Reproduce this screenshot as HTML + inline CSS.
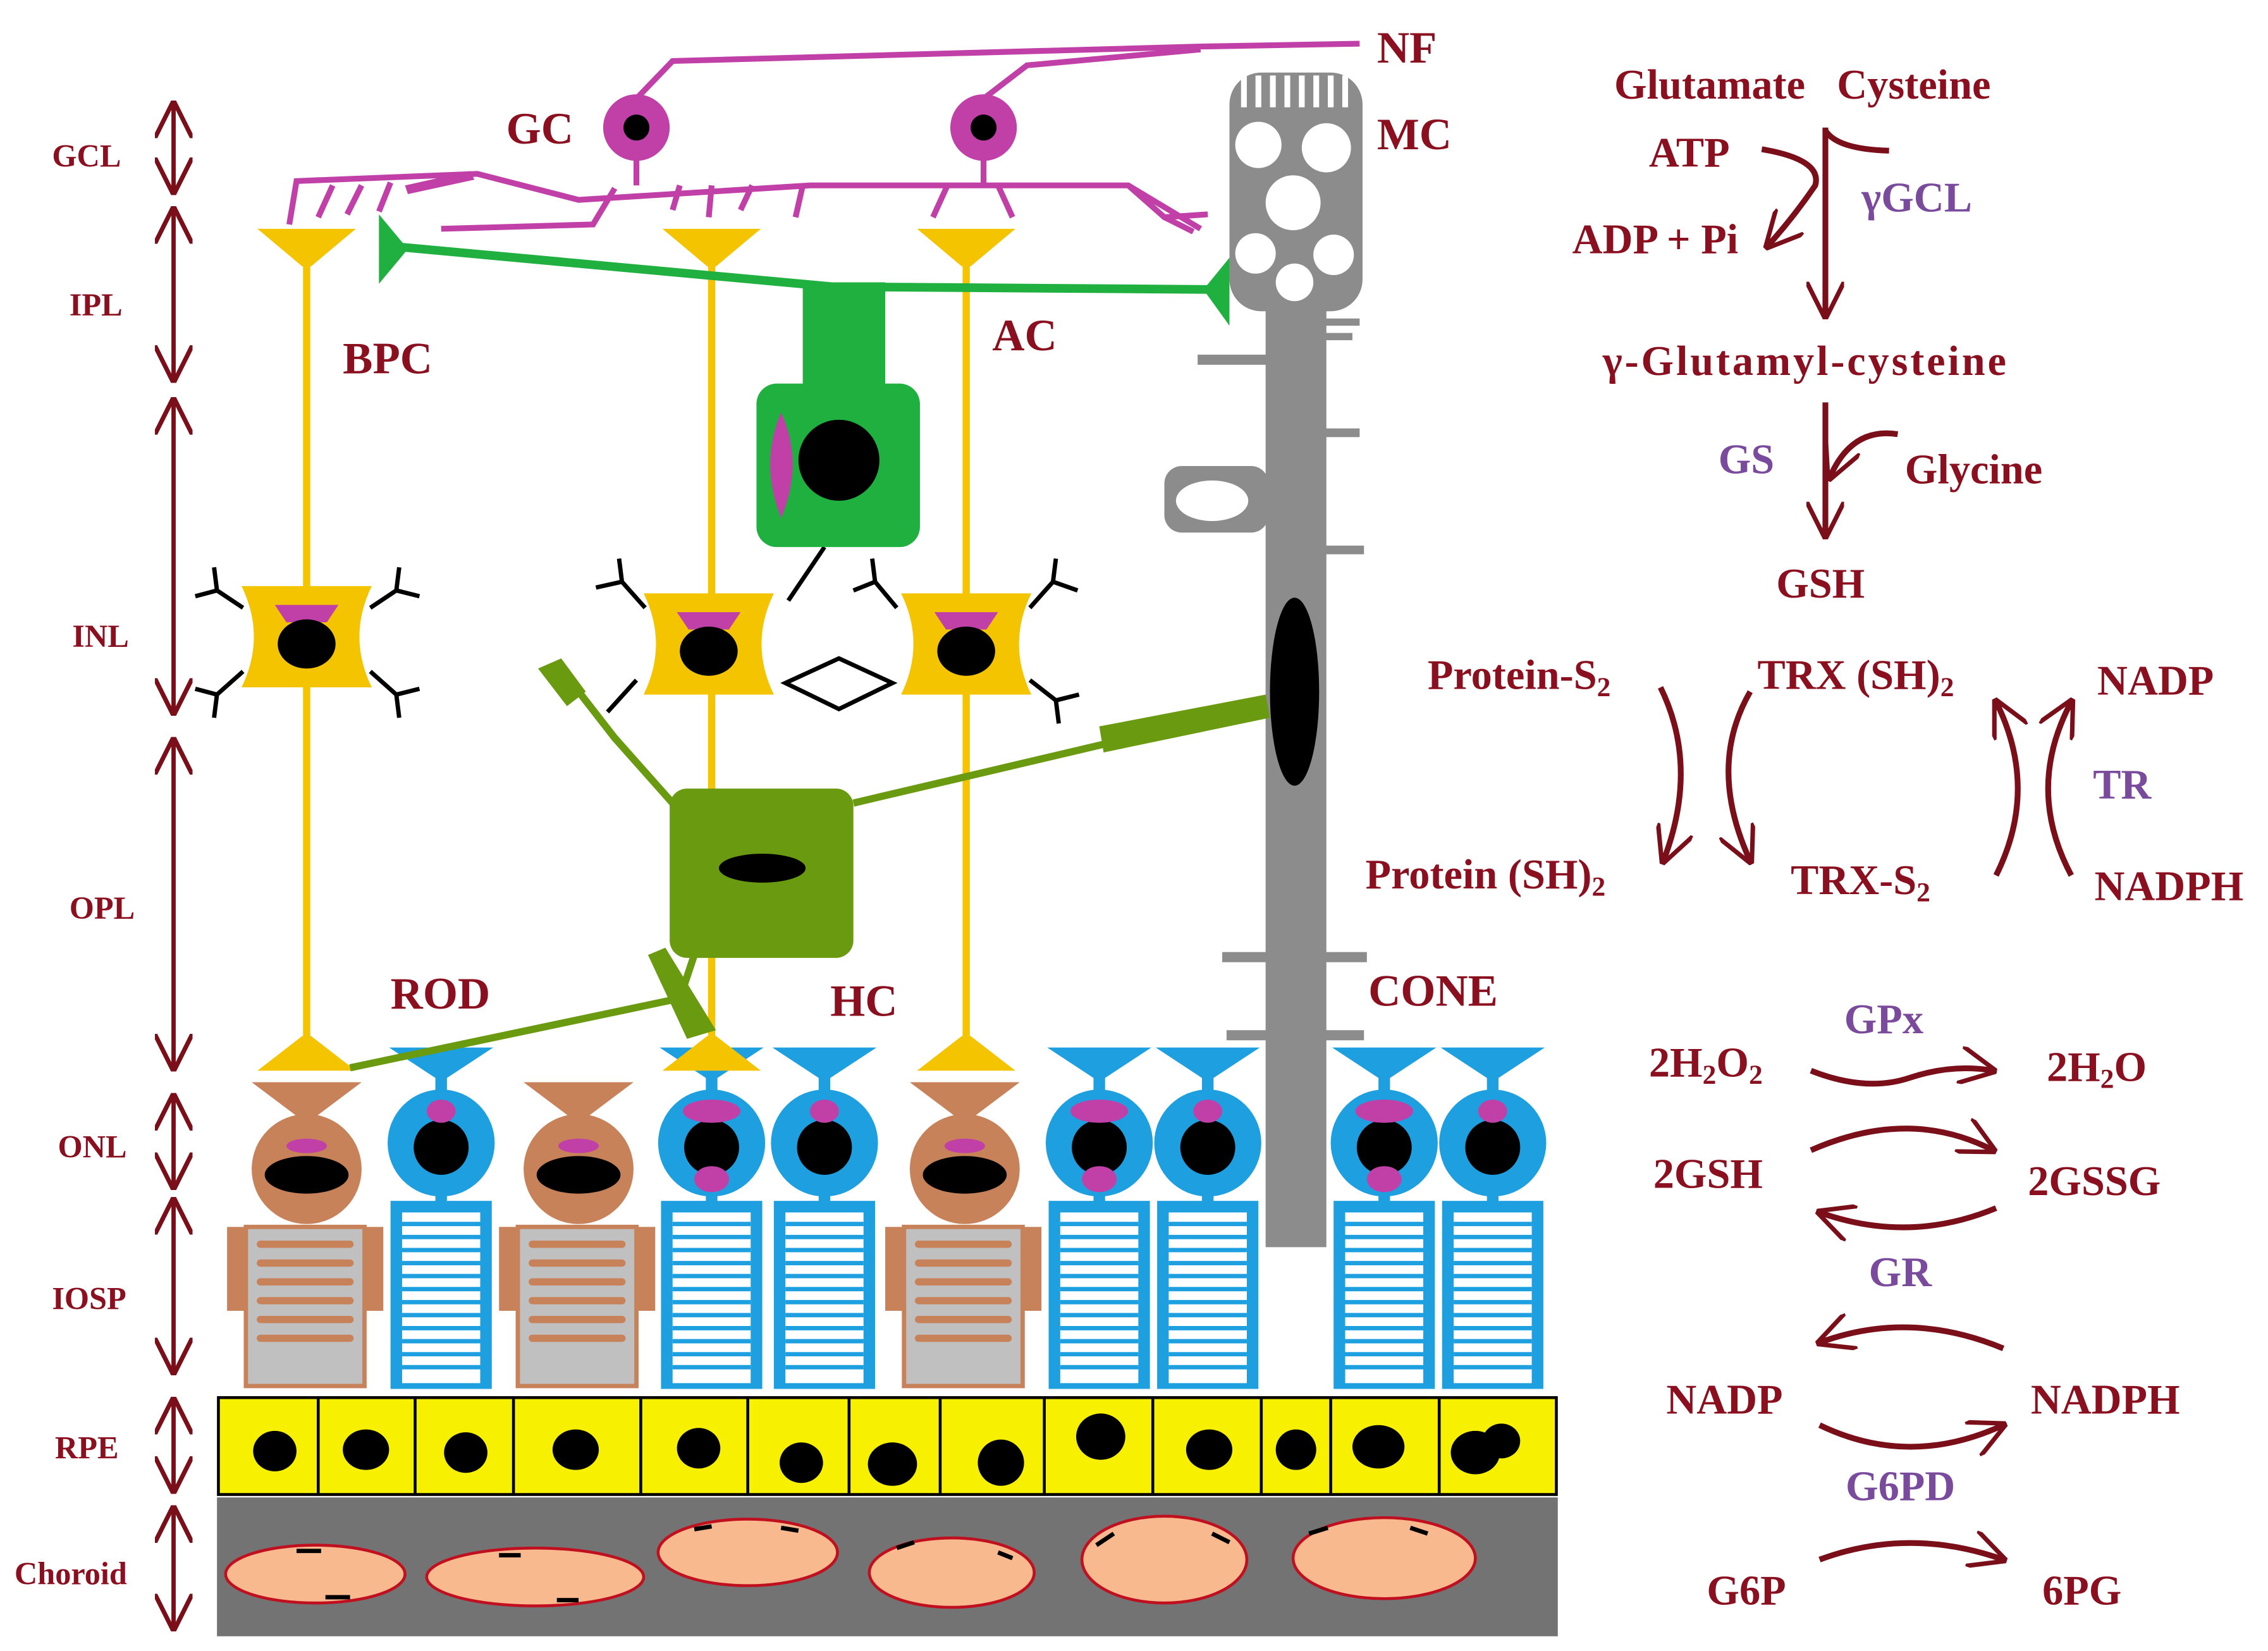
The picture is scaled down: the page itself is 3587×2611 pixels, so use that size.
<!DOCTYPE html>
<html><head><meta charset="utf-8"><style>
html,body{margin:0;padding:0;background:#fff;}
svg{display:block;}
text{font-family:"Liberation Serif",serif;font-weight:bold;}
.r{fill:#8a0f1f;}
.p{fill:#7a4a9c;}
</style></head><body>
<svg width="3587" height="2611" viewBox="0 0 1568 1141" xmlns="http://www.w3.org/2000/svg">
<defs>
<marker id="b" viewBox="0 0 10 10" refX="9" refY="5" markerWidth="26" markerHeight="26" orient="auto-start-reverse" markerUnits="userSpaceOnUse">
<path d="M0,0 L10,5 L0,10" fill="none" stroke="#7a0f1a" stroke-width="1.2"/></marker>
<g id="cone">
<polygon points="-36,724 36,724 4,745 -4,745" fill="#1ea0e0"/>
<rect x="-4" y="740" width="8" height="20" fill="#1ea0e0"/>
<circle cx="0" cy="790" r="37" fill="#1ea0e0"/>
<circle cx="0" cy="793" r="19" fill="#000"/>
<ellipse cx="0" cy="768" rx="10" ry="8" fill="#c040a8"/>
<rect x="-4" y="822" width="8" height="10" fill="#1ea0e0"/>
<rect x="-35" y="830" width="70" height="130" fill="#1ea0e0"/>
<rect x="-27" y="838" width="54" height="118" fill="#fff"/>
<g stroke="#1ea0e0" stroke-width="3">
<line x1="-27" y1="846" x2="27" y2="846"/><line x1="-27" y1="855" x2="27" y2="855"/><line x1="-27" y1="864" x2="27" y2="864"/><line x1="-27" y1="873" x2="27" y2="873"/><line x1="-27" y1="882" x2="27" y2="882"/><line x1="-27" y1="891" x2="27" y2="891"/><line x1="-27" y1="900" x2="27" y2="900"/><line x1="-27" y1="909" x2="27" y2="909"/><line x1="-27" y1="918" x2="27" y2="918"/><line x1="-27" y1="927" x2="27" y2="927"/><line x1="-27" y1="936" x2="27" y2="936"/><line x1="-27" y1="945" x2="27" y2="945"/></g>
</g>
<g id="rod">
<polygon points="-38,748 38,748 6,772 -6,772" fill="#c8825a"/>
<rect x="-4" y="768" width="8" height="14" fill="#c8825a"/>
<circle cx="0" cy="808" r="38" fill="#c8825a"/>
<ellipse cx="0" cy="812" rx="29" ry="13" fill="#000"/>
<ellipse cx="0" cy="792" rx="14" ry="5" fill="#c040a8"/>
<rect x="-55" y="848" width="108" height="58" fill="#c8825a"/>
<rect x="-42" y="848" width="82" height="110" fill="#c0c0c0" stroke="#c8825a" stroke-width="3"/>
<g stroke="#c8825a" stroke-width="5" stroke-linecap="round">
<line x1="-32" y1="860" x2="30" y2="860"/><line x1="-32" y1="873" x2="30" y2="873"/><line x1="-32" y1="886" x2="30" y2="886"/><line x1="-32" y1="899" x2="30" y2="899"/><line x1="-32" y1="912" x2="30" y2="912"/><line x1="-32" y1="925" x2="30" y2="925"/></g>
</g>
<g id="bpc">
<path d="M-45,-35 L45,-35 Q28,0 45,35 L-45,35 Q-28,0 -45,-35Z" fill="#f5c400"/>
<polygon points="-22,-22 22,-22 14,-10 -14,-10" fill="#c040a8"/>
<ellipse cx="0" cy="5" rx="20" ry="17" fill="#000"/>
</g>
</defs>

<!-- Choroid -->
<rect x="150" y="1035" width="927" height="96" fill="#737373"/>
<g fill="#f9b98f" stroke="#c01020" stroke-width="2">
<ellipse cx="218" cy="1088" rx="62" ry="20"/><ellipse cx="370" cy="1090" rx="75" ry="20"/>
<ellipse cx="517" cy="1073" rx="62" ry="23"/><ellipse cx="658" cy="1087" rx="57" ry="24"/>
<ellipse cx="805" cy="1078" rx="57" ry="30"/><ellipse cx="957" cy="1077" rx="63" ry="28"/></g>
<g stroke="#000" stroke-width="3">
<line x1="205" y1="1072" x2="222" y2="1072"/><line x1="225" y1="1104" x2="242" y2="1104"/>
<line x1="345" y1="1075" x2="360" y2="1075"/><line x1="385" y1="1106" x2="400" y2="1106"/>
<line x1="480" y1="1057" x2="492" y2="1055"/><line x1="540" y1="1056" x2="552" y2="1058"/>
<line x1="620" y1="1070" x2="632" y2="1066"/><line x1="690" y1="1073" x2="700" y2="1077"/>
<line x1="758" y1="1068" x2="770" y2="1060"/><line x1="838" y1="1060" x2="850" y2="1066"/>
<line x1="905" y1="1060" x2="918" y2="1056"/><line x1="975" y1="1056" x2="987" y2="1060"/></g>

<!-- RPE -->
<rect x="151" y="966" width="925" height="67" fill="#f7f000" stroke="#000" stroke-width="2"/>
<g stroke="#000" stroke-width="2">
<line x1="220" y1="966" x2="220" y2="1033"/><line x1="287" y1="966" x2="287" y2="1033"/><line x1="355" y1="966" x2="355" y2="1033"/><line x1="443" y1="966" x2="443" y2="1033"/><line x1="517" y1="966" x2="517" y2="1033"/><line x1="587" y1="966" x2="587" y2="1033"/><line x1="650" y1="966" x2="650" y2="1033"/><line x1="722" y1="966" x2="722" y2="1033"/><line x1="797" y1="966" x2="797" y2="1033"/><line x1="872" y1="966" x2="872" y2="1033"/><line x1="920" y1="966" x2="920" y2="1033"/><line x1="995" y1="966" x2="995" y2="1033"/></g>
<g fill="#000">
<ellipse cx="190" cy="1003" rx="15" ry="14"/><ellipse cx="253" cy="1002" rx="16" ry="14"/><ellipse cx="322" cy="1004" rx="15" ry="14"/><ellipse cx="398" cy="1002" rx="16" ry="14"/><ellipse cx="483" cy="1001" rx="15" ry="14"/><ellipse cx="554" cy="1011" rx="15" ry="14"/><ellipse cx="617" cy="1012" rx="17" ry="15"/><ellipse cx="692" cy="1011" rx="16" ry="16"/><ellipse cx="761" cy="993" rx="17" ry="16"/><ellipse cx="836" cy="1002" rx="16" ry="14"/><ellipse cx="896" cy="1002" rx="14" ry="14"/><ellipse cx="953" cy="1000" rx="18" ry="15"/><ellipse cx="1020" cy="1004" rx="17" ry="15"/><ellipse cx="1038" cy="996" rx="13" ry="12"/></g>

<!-- MC -->
<g fill="#8c8c8c">
<rect x="875" y="170" width="42" height="692"/>
<rect x="850" y="50" width="92" height="165" rx="22"/>
<rect x="828" y="245" width="50" height="7"/><rect x="915" y="220" width="25" height="5"/><rect x="915" y="230" width="20" height="5"/>
<rect x="915" y="296" width="25" height="6"/><rect x="915" y="377" width="28" height="6"/>
<rect x="805" y="322" width="72" height="46" rx="12"/>
<rect x="845" y="658" width="100" height="7"/><rect x="848" y="712" width="95" height="7"/></g>
<g fill="#fff">
<rect x="858" y="52" width="4" height="22"/><rect x="868" y="52" width="4" height="22"/><rect x="878" y="52" width="4" height="22"/><rect x="888" y="52" width="4" height="22"/><rect x="898" y="52" width="4" height="22"/><rect x="908" y="52" width="4" height="22"/><rect x="918" y="52" width="4" height="22"/><rect x="928" y="52" width="4" height="22"/>
<circle cx="870" cy="100" r="16"/><circle cx="917" cy="102" r="17"/><circle cx="894" cy="140" r="19"/><circle cx="868" cy="175" r="14"/><circle cx="922" cy="176" r="14"/><circle cx="895" cy="195" r="13"/>
<ellipse cx="838" cy="346" rx="25" ry="14"/></g>
<ellipse cx="895" cy="478" rx="17" ry="65" fill="#000"/>

<!-- Cones and rods -->
<use href="#cone" x="305"/><use href="#cone" x="492"/><use href="#cone" x="570"/><use href="#cone" x="760"/><use href="#cone" x="835"/><use href="#cone" x="957"/><use href="#cone" x="1032"/>
<use href="#rod" x="212"/><use href="#rod" x="400"/><use href="#rod" x="667"/>
<g fill="#c040a8"><ellipse cx="492" cy="815" rx="12" ry="9"/><ellipse cx="760" cy="815" rx="12" ry="9"/><ellipse cx="957" cy="815" rx="12" ry="9"/>
<ellipse cx="492" cy="768" rx="20" ry="8"/><ellipse cx="760" cy="768" rx="20" ry="8"/><ellipse cx="957" cy="768" rx="20" ry="8"/></g>

<!-- Bipolar cells -->
<g fill="#f5c400" stroke="#f5c400">
<line x1="212" y1="170" x2="212" y2="730" stroke-width="5"/><line x1="492" y1="170" x2="492" y2="730" stroke-width="5"/><line x1="668" y1="170" x2="668" y2="730" stroke-width="5"/>
<polygon points="178,158 246,158 215,184 209,184" stroke="none"/><polygon points="458,158 526,158 495,184 489,184" stroke="none"/><polygon points="634,158 702,158 671,184 665,184" stroke="none"/>
<polygon points="209,716 215,716 246,740 178,740" stroke="none"/><polygon points="489,716 495,716 526,740 458,740" stroke="none"/><polygon points="665,716 671,716 702,740 634,740" stroke="none"/></g>
<use href="#bpc" x="212" y="440"/><use href="#bpc" x="490" y="445"/><use href="#bpc" x="668" y="445"/>
<g fill="none" stroke="#000" stroke-width="3">
<path d="M168,420 L150,408 M150,408 L135,412 M150,408 L148,392"/>
<path d="M256,420 L274,408 M274,408 L290,412 M274,408 L276,392"/>
<path d="M168,464 L150,480 M150,480 L135,476 M150,480 L148,496"/>
<path d="M256,464 L274,480 M274,480 L290,476 M274,480 L276,496"/>
<path d="M446,420 L430,402 M430,402 L412,406 M430,402 L428,386"/>
<path d="M620,420 L605,402 M605,402 L590,408 M605,402 L603,386"/>
<path d="M712,420 L728,402 M728,402 L745,408 M728,402 L730,386"/>
<path d="M712,470 L730,484 M730,484 L746,480 M730,484 L732,500"/>
<line x1="440" y1="470" x2="420" y2="492"/>
<line x1="545" y1="415" x2="570" y2="378"/>
<polygon points="543,472 580,455 617,472 580,490"/></g>

<!-- AC -->
<g fill="#1fb040" stroke="#1fb040">
<path d="M270,170 L575,198 L845,200" fill="none" stroke-width="6"/>
<polygon points="262,148 282,172 262,196" stroke="none"/>
<polygon points="850,178 850,225 832,200" stroke="none"/>
<rect x="555" y="195" width="57" height="75" stroke="none"/>
<rect x="523" y="265" width="113" height="113" rx="14" stroke="none"/></g>
<path d="M540,285 Q525,320 540,358 Q556,320 540,285Z" fill="#c040a8"/>
<circle cx="580" cy="318" r="28" fill="#000"/>

<!-- HC -->
<g stroke="#6a9a10" fill="none" stroke-width="5">
<path d="M465,555 L425,510 L390,465"/><path d="M590,555 L875,488"/>
<path d="M480,660 L470,690 L242,738"/><path d="M470,690 L490,712"/></g>
<g fill="#6a9a10">
<polygon points="372,462 388,455 405,478 392,488"/>
<polygon points="760,502 875,480 878,496 763,520"/>
<polygon points="448,660 460,655 495,712 475,718"/>
<rect x="463" y="545" width="127" height="117" rx="12"/></g>
<ellipse cx="527" cy="600" rx="30" ry="10" fill="#000"/>

<!-- GC -->
<g stroke="#c040a8" fill="none" stroke-width="4">
<path d="M440,68 L465,42 L830,32 L940,30"/><path d="M680,68 L710,45 L830,34"/>
<path d="M440,110 L440,128 M680,110 L680,128"/>
<path d="M200,155 L205,125 L330,120 L400,138 L560,128 L780,128 L830,158"/>
<path d="M305,158 L410,155 L425,130"/>
<path d="M220,150 L230,128 M240,148 L250,128 M262,146 L270,126"/>
<path d="M465,145 L470,128 M490,150 L492,128 M512,145 L520,128 M550,150 L555,128 M645,150 L655,128 M700,150 L690,128"/>
<path d="M780,128 L805,150 L835,148 M805,150 L825,160"/></g>
<path d="M280,128 L325,118 L328,124 L282,134Z" fill="#c040a8"/>
<g fill="#c040a8"><circle cx="440" cy="88" r="23"/><circle cx="680" cy="88" r="23"/></g>
<g fill="#000"><circle cx="440" cy="88" r="9"/><circle cx="680" cy="88" r="9"/></g>

<!-- cell labels -->
<g class="r" font-size="31">
<text x="350" y="99">GC</text><text x="952" y="43">NF</text><text x="952" y="103">MC</text>
<text x="237" y="258">BPC</text><text x="686" y="242">AC</text>
<text x="270" y="697">ROD</text><text x="574" y="702">HC</text><text x="946" y="695">CONE</text></g>

<!-- layer labels and arrows -->
<g class="r" font-size="22">
<text x="36" y="115">GCL</text><text x="48" y="218">IPL</text><text x="50" y="447">INL</text><text x="48" y="635">OPL</text><text x="40" y="800">ONL</text><text x="36" y="905">IOSP</text><text x="38" y="1008">RPE</text><text x="10" y="1095">Choroid</text></g>
<g stroke="#7a0f1a" stroke-width="3" marker-start="url(#b)" marker-end="url(#b)">
<line x1="120" y1="72" x2="120" y2="132"/><line x1="120" y1="145" x2="120" y2="262"/><line x1="120" y1="277" x2="120" y2="492"/><line x1="120" y1="512" x2="120" y2="738"/><line x1="120" y1="758" x2="120" y2="820"/><line x1="120" y1="830" x2="120" y2="948"/><line x1="120" y1="968" x2="120" y2="1030"/><line x1="120" y1="1043" x2="120" y2="1125"/></g>

<!-- right side pathway -->
<g fill="none" stroke="#7a0f1a" stroke-width="4" marker-end="url(#b)">
<line x1="1262" y1="88" x2="1262" y2="218"/>
<path d="M1218,103 Q1260,110 1255,128 Q1240,150 1222,170"/>
<line x1="1262" y1="278" x2="1262" y2="370"/>
<path d="M1312,300 Q1280,295 1265,330"/>
<path d="M1148,475 Q1175,530 1150,595"/>
<path d="M1210,478 Q1180,530 1210,595"/>
<path d="M1380,605 Q1410,545 1380,485"/>
<path d="M1432,605 Q1400,545 1432,485"/>
<path d="M1252,740 Q1290,755 1320,745 Q1350,735 1378,740"/>
<path d="M1252,795 Q1320,765 1378,795"/>
<path d="M1380,835 Q1320,860 1258,838"/>
<path d="M1385,932 Q1320,905 1258,928"/>
<path d="M1258,985 Q1320,1015 1385,985"/>
<path d="M1258,1078 Q1320,1055 1385,1078"/></g>
<path d="M1262,90 Q1270,103 1306,104" fill="none" stroke="#7a0f1a" stroke-width="4"/>
<g class="r" font-size="29">
<text x="1116" y="68">Glutamate</text><text x="1270" y="68">Cysteine</text>
<text x="1140" y="115">ATP</text><text x="1087" y="175">ADP + Pi</text>
<text x="1108" y="259" textLength="279">γ-Glutamyl-cysteine</text>
<text x="1317" y="334">Glycine</text><text x="1228" y="413">GSH</text>
<text x="987" y="476">Protein-S<tspan font-size="19" dy="5">2</tspan></text>
<text x="1215" y="476">TRX (SH)<tspan font-size="19" dy="5">2</tspan></text>
<text x="1450" y="480">NADP</text>
<text x="944" y="614">Protein (SH)<tspan font-size="19" dy="5">2</tspan></text>
<text x="1238" y="618">TRX-S<tspan font-size="19" dy="5">2</tspan></text>
<text x="1448" y="622">NADPH</text>
<text x="1140" y="744">2H<tspan font-size="19" dy="5">2</tspan><tspan dy="-5">O</tspan><tspan font-size="19" dy="5">2</tspan></text>
<text x="1415" y="747">2H<tspan font-size="19" dy="5">2</tspan><tspan dy="-5">O</tspan></text>
<text x="1143" y="821">2GSH</text><text x="1402" y="826">2GSSG</text>
<text x="1152" y="977">NADP</text><text x="1404" y="977">NADPH</text>
<text x="1180" y="1109">G6P</text><text x="1412" y="1109">6PG</text></g>
<g class="p" font-size="29">
<text x="1287" y="146">γGCL</text><text x="1188" y="327">GS</text><text x="1447" y="552">TR</text>
<text x="1275" y="714">GPx</text><text x="1292" y="889">GR</text><text x="1276" y="1037">G6PD</text></g>
</svg>
</body></html>
